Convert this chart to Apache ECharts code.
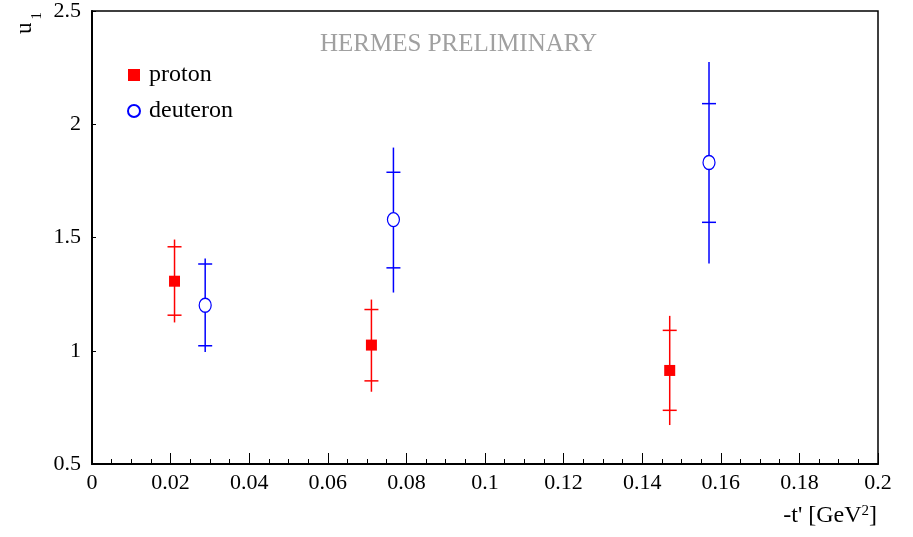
<!DOCTYPE html>
<html>
<head>
<meta charset="utf-8">
<script src="https://cdn.jsdelivr.net/npm/echarts@6/dist/echarts.min.js"></script>
<style>
  html, body { margin: 0; padding: 0; background: #fff; }
  #chart { width: 913px; height: 537px; }
</style>
</head>
<body>
<div id="chart"></div>
<script>
// -t' values (GeV^2)
const protonT   = [0.021, 0.0711, 0.147];
const deuteronT = [0.0288, 0.0767, 0.157];

// u1 central values
const protonU   = [1.307, 1.025, 0.913];
const deuteronU = [1.201, 1.579, 1.831];

// statistical error band edges (horizontal ticks)
const protonStatLo   = [1.157, 0.867, 0.737];
const protonStatHi   = [1.459, 1.182, 1.090];
const deuteronStatLo = [1.022, 1.366, 1.567];
const deuteronStatHi = [1.383, 1.788, 2.091];

// total error edges (full vertical line)
const protonTotLo   = [1.125, 0.819, 0.672];
const protonTotHi   = [1.491, 1.226, 1.154];
const deuteronTotLo = [0.995, 1.257, 1.385];
const deuteronTotHi = [1.407, 1.897, 2.275];

const xTicks = [0, 0.02, 0.04, 0.06, 0.08, 0.1, 0.12, 0.14, 0.16, 0.18, 0.2];
const yTicks = [0.5, 1, 1.5, 2, 2.5];

const RED = '#ff0000';
const BLUE = '#0000ff';
const FONT = '"Liberation Serif", "DejaVu Serif", serif';

function errData(t, lo, hi, sLo, sHi) {
  return t.map((x, i) => [x, lo[i], hi[i], sLo[i], sHi[i]]);
}
function pointData(t, u) {
  return t.map((x, i) => [x, u[i]]);
}

function errorBar(color) {
  return function (params, api) {
    const x = api.value(0);
    const pLo = api.coord([x, api.value(1)]);
    const pHi = api.coord([x, api.value(2)]);
    const sLo = api.coord([x, api.value(3)]);
    const sHi = api.coord([x, api.value(4)]);
    const hw = 7;
    const style = { stroke: color, lineWidth: 1.5 };
    return {
      type: 'group',
      children: [
        { type: 'line', shape: { x1: pLo[0], y1: pLo[1], x2: pHi[0], y2: pHi[1] }, style: style },
        { type: 'line', shape: { x1: sLo[0] - hw, y1: sLo[1], x2: sLo[0] + hw, y2: sLo[1] }, style: style },
        { type: 'line', shape: { x1: sHi[0] - hw, y1: sHi[1], x2: sHi[0] + hw, y2: sHi[1] }, style: style }
      ]
    };
  };
}

const chart = echarts.init(document.getElementById('chart'), null, { renderer: 'canvas' });

chart.setOption({
  animation: false,
  backgroundColor: '#fff',
  grid: {
    left: 92, right: 35, top: 11, bottom: 73,
    show: true, borderColor: '#000', borderWidth: 1.5, backgroundColor: 'transparent'
  },
  xAxis: {
    type: 'value',
    min: xTicks[0], max: xTicks[xTicks.length - 1], interval: 0.02,
    axisLine: { show: true, lineStyle: { color: '#000', width: 2 } },
    axisTick: { show: true, inside: true, length: 11, lineStyle: { color: '#000', width: 1 } },
    minorTick: { show: true, splitNumber: 4, length: 5, lineStyle: { color: '#000', width: 1 } },
    splitLine: { show: false },
    axisLabel: {
      margin: 8, color: '#000', fontSize: 22, fontFamily: FONT,
      formatter: v => String(parseFloat(v.toFixed(3)))
    }
  },
  yAxis: {
    type: 'value',
    min: yTicks[0], max: yTicks[yTicks.length - 1], interval: 0.5,
    axisLine: { show: true, lineStyle: { color: '#000', width: 2 } },
    axisTick: { show: true, inside: true, length: 4, lineStyle: { color: '#000', width: 1 } },
    splitLine: { show: false },
    axisLabel: {
      margin: 11, color: '#000', fontSize: 22, fontFamily: FONT,
      formatter: v => String(parseFloat(v.toFixed(2)))
    }
  },
  legend: {
    orient: 'vertical',
    left: 122, top: 58,
    itemGap: 12,
    itemWidth: 12, itemHeight: 12,
    data: ['proton', 'deuteron'],
    textStyle: { color: '#000', fontSize: 24, fontFamily: FONT, padding: [0, 0, 0, 4] }
  },
  graphic: [
    {
      type: 'text', left: 320, top: 32,
      style: { text: 'HERMES PRELIMINARY', fill: '#a0a0a0', font: '25px ' + FONT }
    },
    {
      type: 'text', right: 36, top: 504,
      style: {
        text: "-t' [GeV{sup|2}]",
        fill: '#000', font: '24px ' + FONT,
        rich: { sup: { fontSize: 15, fontFamily: FONT, fill: '#000', verticalAlign: 'top', padding: [0, 0, 9, 0] } }
      }
    },
    // y-axis title u_1, drawn vertically (reads bottom to top)
    {
      type: 'text', x: 13, y: 34, rotation: Math.PI / 2,
      style: { text: 'u', fill: '#000', font: '23px ' + FONT }
    },
    {
      type: 'text', x: 30, y: 19.5, rotation: Math.PI / 2,
      style: { text: '1', fill: '#000', font: '15px ' + FONT }
    }
  ],
  series: [
    {
      name: 'proton err', type: 'custom',
      renderItem: errorBar(RED),
      encode: { x: 0, y: [1, 2, 3, 4] },
      data: errData(protonT, protonTotLo, protonTotHi, protonStatLo, protonStatHi),
      z: 2, silent: true
    },
    {
      name: 'deuteron err', type: 'custom',
      renderItem: errorBar(BLUE),
      encode: { x: 0, y: [1, 2, 3, 4] },
      data: errData(deuteronT, deuteronTotLo, deuteronTotHi, deuteronStatLo, deuteronStatHi),
      z: 2, silent: true
    },
    {
      name: 'proton', type: 'scatter',
      symbol: 'rect', symbolSize: 11,
      itemStyle: { color: RED, opacity: 1 },
      data: pointData(protonT, protonU),
      z: 5
    },
    {
      name: 'deuteron', type: 'scatter',
      symbol: 'circle', symbolSize: [12, 14],
      itemStyle: { color: '#fff', borderColor: BLUE, borderWidth: 1.3, opacity: 1 },
      data: pointData(deuteronT, deuteronU),
      z: 5
    }
  ]
});
</script>
</body>
</html>
